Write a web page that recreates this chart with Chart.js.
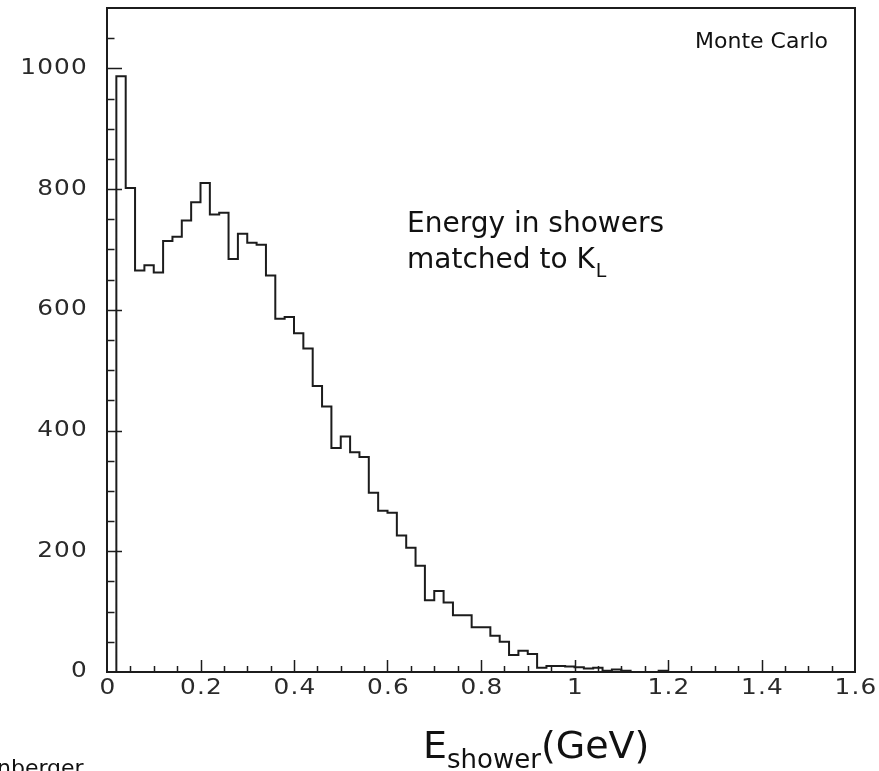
<!DOCTYPE html>
<html>
<head>
<meta charset="utf-8">
<script src="https://cdn.jsdelivr.net/npm/chart.js@4/dist/chart.umd.min.js"></script>
<style>
  html, body { margin: 0; padding: 0; background: #fff; }
  #wrap { position: relative; width: 879px; height: 771px; }
</style>
</head>
<body>
<div id="wrap"><canvas id="c"></canvas></div>
<script>
// Histogram of shower energy: 80 bins of 0.02 GeV from 0 to 1.6 GeV
const binLow = 0;
const binWidth = 0.02;
const counts = [
  0, 987, 802, 665, 674, 662, 714, 721, 748, 778,
  810, 758, 761, 684, 726, 711, 708, 657, 585, 588,
  561, 536, 474, 440, 371, 390, 364, 356, 297, 267,
  264, 226, 206, 176, 119, 134, 115, 94, 94, 74,
  74, 60, 50, 28, 35, 30, 7, 10, 10, 9,
  8, 6, 7, 2, 4, 2, 0, 0, 0, 2,
  0, 0, 0, 0, 0, 0, 0, 0, 0, 0,
  0, 0, 0, 0, 0, 0, 0, 0, 0, 0
];

// Axis ticks and their labels
const xMajorTicks = [0, 0.2, 0.4, 0.6, 0.8, 1.0, 1.2, 1.4, 1.6];
const xTickLabels = ['0', '0.2', '0.4', '0.6', '0.8', '1', '1.2', '1.4', '1.6'];
const yMajorTicks = [0, 200, 400, 600, 800, 1000];
const yTickLabels = ['0', '200', '400', '600', '800', '1000'];
const xMinorStep = 0.05;
const yMinorStep = 50;

// Step outline: one point at each bin's lower edge (the level holds until the
// next edge with 'before' stepping), plus a closing point at the upper edge.
const outline = counts.map((c, i) => ({ x: +(binLow + i * binWidth).toFixed(4), y: c }));
outline.push({ x: +(binLow + counts.length * binWidth).toFixed(4), y: 0 });

const INK = '#1c1c1c';

const framePlugin = {
  id: 'frame',
  afterDatasetsDraw(chart) {
    const { ctx, chartArea: a, scales } = chart;
    const xs = scales.x, ys = scales.y;
    ctx.save();
    // frame
    ctx.strokeStyle = INK;
    ctx.lineWidth = 2;
    ctx.strokeRect(a.left, a.top, a.right - a.left, a.bottom - a.top);

    // inward tick marks
    ctx.lineWidth = 1.5;
    ctx.beginPath();
    for (let v = xMinorStep; v < xs.max - 1e-6; v += xMinorStep) {
      const px = Math.round(xs.getPixelForValue(v)) + 0.5;
      const major = xMajorTicks.some(t => Math.abs(t - v) < 1e-6);
      ctx.moveTo(px, a.bottom);
      ctx.lineTo(px, a.bottom - (major ? 12 : 6));
    }
    for (let v = yMinorStep; v < ys.max - 1e-6; v += yMinorStep) {
      const py = Math.round(ys.getPixelForValue(v)) + 0.5;
      const major = yMajorTicks.includes(v);
      ctx.moveTo(a.left, py);
      ctx.lineTo(a.left + (major ? 15 : 7.5), py);
    }
    ctx.stroke();

    // tick labels (widened lettering)
    ctx.fillStyle = '#2a2a2a';
    ctx.font = '21px "DejaVu Sans"';
    ctx.letterSpacing = '1px';
    const sx = 1.18;
    ctx.textBaseline = 'middle';
    ctx.textAlign = 'right';
    yMajorTicks.forEach((v, i) => {
      const py = ys.getPixelForValue(v);
      ctx.save();
      ctx.translate(88, py);
      ctx.scale(sx, 1);
      ctx.fillText(yTickLabels[i], 0, 0);
      ctx.restore();
    });
    ctx.textAlign = 'center';
    xMajorTicks.forEach((v, i) => {
      const px = xs.getPixelForValue(v);
      ctx.save();
      ctx.translate(px + 1, 689);
      ctx.scale(sx, 1);
      ctx.fillText(xTickLabels[i], 0, 0);
      ctx.restore();
    });
    ctx.letterSpacing = '0px';

    // annotations
    ctx.fillStyle = '#111';
    ctx.textAlign = 'left';
    ctx.textBaseline = 'alphabetic';
    ctx.font = '22px "DejaVu Sans"';
    ctx.fillText('Monte Carlo', 695, 48);

    ctx.font = '28px "DejaVu Sans"';
    ctx.fillText('Energy in showers', 407, 232);
    ctx.fillText('matched to K', 407, 268);
    const kw = ctx.measureText('matched to K').width;
    ctx.font = '19px "DejaVu Sans"';
    ctx.fillText('L', 407 + kw + 1, 277);

    // axis title E_shower(GeV)
    let tx = 423;
    ctx.font = '38px "DejaVu Sans"';
    ctx.fillText('E', tx, 758);
    tx += ctx.measureText('E').width;
    ctx.font = '26px "DejaVu Sans"';
    ctx.fillText('shower', tx, 768);
    tx += ctx.measureText('shower').width;
    ctx.font = '38px "DejaVu Sans"';
    ctx.fillText('(GeV)', tx, 758);

    // author credit at lower left edge
    ctx.font = '22px "DejaVu Sans"';
    ctx.fillText('nberger', -3, 775);
    ctx.restore();
  }
};

new Chart(document.getElementById('c'), {
  type: 'line',
  data: {
    datasets: [{
      data: outline,
      stepped: 'before',
      borderColor: INK,
      borderWidth: 2,
      pointRadius: 0,
      fill: false
    }]
  },
  options: {
    responsive: true,
    maintainAspectRatio: false,
    animation: false,
    layout: { padding: { left: 107, right: 24, top: 8, bottom: 99 } },
    plugins: { legend: { display: false }, tooltip: { enabled: false } },
    scales: {
      x: {
        type: 'linear', min: 0, max: 1.6,
        grid: { display: false, drawTicks: false },
        border: { display: false },
        ticks: { display: false }
      },
      y: {
        type: 'linear', min: 0, max: 1100,
        grid: { display: false, drawTicks: false },
        border: { display: false },
        ticks: { display: false }
      }
    }
  },
  plugins: [framePlugin]
});
</script>
</body>
</html>
